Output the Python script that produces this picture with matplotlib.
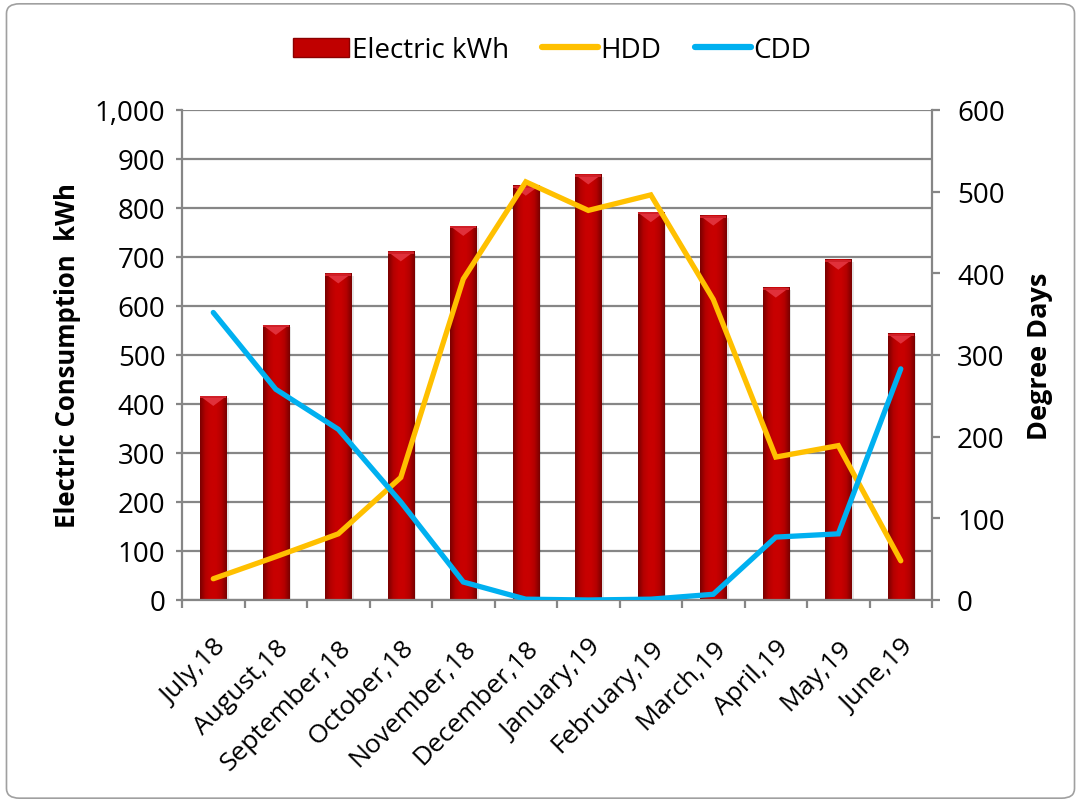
import numpy as np
import matplotlib
matplotlib.use("Agg")
import matplotlib.pyplot as plt
from matplotlib.colors import LinearSegmentedColormap
from matplotlib.patches import Patch, FancyBboxPatch, Polygon
from matplotlib.lines import Line2D
from matplotlib.ticker import FuncFormatter, MultipleLocator

plt.rcParams["font.family"] = ["Open Sans", "DejaVu Sans"]

months = ["July,18", "August,18", "September,18", "October,18", "November,18",
          "December,18", "January,19", "February,19", "March,19", "April,19",
          "May,19", "June,19"]
electric_kwh = [416, 561, 666, 711, 763, 845, 868, 791, 784, 637, 694, 543]
hdd = [26, 53, 81, 150, 393, 512, 477, 496, 368, 175, 189, 48]
cdd = [352, 258, 209, 120, 22, 1, 0, 1, 7, 77, 81, 283]

grid_grey = "#868686"
bar_red = "#C00000"
hdd_color = "#FFC000"
cdd_color = "#00B0F0"

fig = plt.figure(figsize=(10.81, 8.04), dpi=100)
fig.patches.append(FancyBboxPatch((0.006, 0.006), 0.988, 0.988,
                                  boxstyle="round,pad=0,rounding_size=0.012",
                                  transform=fig.transFigure, fill=False,
                                  edgecolor="#A0A0A0", linewidth=1.2))

ax = fig.add_axes([0.1684, 0.2525, 0.6938, 0.6095])
x = np.arange(len(months))

# bars with a horizontal shading to look like the excel bevel style
cmap = LinearSegmentedColormap.from_list(
    "bevel", ["#7A0000", "#B40000", "#C80000", "#C80000", "#B40000", "#7A0000"])
grad = np.linspace(0, 1, 64).reshape(1, -1)
bars = ax.bar(x, electric_kwh, width=0.42, color="none", zorder=2)
for b in bars:
    x0, w, h = b.get_x(), b.get_width(), b.get_height()
    # soft shadow on the right
    ax.add_patch(plt.Rectangle((x0 + w * 0.08, 0), w, h - 4, color="#000000",
                               alpha=0.10, zorder=1.8, linewidth=0))
    ax.imshow(grad, extent=[x0, x0 + w, 0, h], aspect="auto", cmap=cmap,
              zorder=2, interpolation="bilinear")
    ax.add_patch(Polygon([(x0, h), (x0 + w, h), (x0 + w * 0.5, h - 20)],
                         closed=True, color="#E0303A", zorder=2.1, linewidth=0))
    ax.add_patch(Polygon([(x0, h), (x0 + w, h), (x0 + w, h - 4), (x0, h - 4)],
                         closed=True, color="#D02028", zorder=2.1, linewidth=0))

ax.set_xlim(-0.5, len(months) - 0.5)
ax.set_ylim(0, 1000)
ax.yaxis.set_major_locator(MultipleLocator(100))
ax.yaxis.set_major_formatter(FuncFormatter(lambda v, p: f"{int(v):,}"))
ax.grid(axis="y", color=grid_grey, linewidth=1.6, zorder=0)
ax.set_axisbelow(True)

ax.set_xticks(x)
ax.set_xticklabels(months, rotation=45, ha="right", rotation_mode="anchor",
                   fontsize=19)
ax.tick_params(axis="x", which="major", length=0, pad=25)
ax.set_xticks(np.arange(-0.5, len(months), 1.0), minor=True)
ax.tick_params(axis="x", which="minor", length=6, width=1.6, color=grid_grey)
ax.tick_params(axis="y", labelsize=20, length=4, width=1.6, color=grid_grey, pad=8)

for side in ["top", "right"]:
    ax.spines[side].set_visible(False)
for side in ["left", "bottom"]:
    ax.spines[side].set_color(grid_grey)
    ax.spines[side].set_linewidth(1.6)

ax.set_ylabel("Electric Consumption  kWh", fontsize=18.5, fontweight="bold",
              labelpad=10)

ax2 = ax.twinx()
ax2.plot(x, hdd, color=hdd_color, linewidth=3.8, solid_capstyle="round",
         solid_joinstyle="miter", zorder=3)
ax2.plot(x, cdd, color=cdd_color, linewidth=3.8, solid_capstyle="round",
         solid_joinstyle="miter", zorder=3)
ax2.set_ylim(0, 600)
ax2.yaxis.set_major_locator(MultipleLocator(100))
ax2.tick_params(axis="y", labelsize=20, length=6, width=1.6, color=grid_grey, pad=12)
for side in ["top", "left", "bottom"]:
    ax2.spines[side].set_visible(False)
ax2.spines["right"].set_color(grid_grey)
ax2.spines["right"].set_linewidth(1.6)
ax2.set_ylabel("Degree Days", fontsize=19.5, fontweight="bold", labelpad=16)

handles = [
    Patch(facecolor=bar_red, edgecolor="#8B0000"),
    Line2D([0], [0], color=hdd_color, linewidth=4.5, solid_capstyle="round"),
    Line2D([0], [0], color=cdd_color, linewidth=4.5, solid_capstyle="round"),
]
fig.legend(handles, ["Electric kWh", "HDD", "CDD"], loc="upper center",
           bbox_to_anchor=(0.511, 0.985), ncol=3, frameon=False, fontsize=20,
           handlelength=2.0, handletextpad=0.1, columnspacing=1.2)

fig.savefig("out.png", dpi=100)
